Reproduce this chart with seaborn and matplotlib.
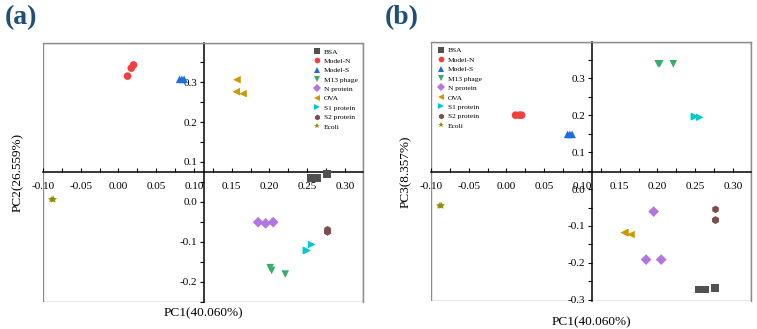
import matplotlib
matplotlib.use('Agg')
import matplotlib.pyplot as plt
import seaborn as sns
import pandas as pd
from matplotlib.patches import Rectangle
from matplotlib.ticker import MultipleLocator, FormatStrFormatter

# ---------------- data ----------------
samples = ['BSA', 'Model-N', 'Model-S', 'M13 phage', 'N protein',
           'OVA', 'S1 protein', 'S2 protein', 'Ecoli']
colors = ['#515151', '#F14040', '#1A6FDF', '#37AD6B', '#B177DE',
          '#CC9900', '#00CBCC', '#7D4E4E', '#8E8E00']
marker_list = ['s', 'o', '^', 'v', 'D', '<', '>', 'h', '*']

point_sample = (['BSA'] * 3 + ['Model-N'] * 3 + ['Model-S'] * 3 + ['M13 phage'] * 3 +
                ['N protein'] * 3 + ['OVA'] * 3 + ['S1 protein'] * 3 +
                ['S2 protein'] * 3 + ['Ecoli'] * 3)
pc1 = [0.255, 0.263, 0.276,
       0.012, 0.017, 0.020,
       0.081, 0.084, 0.087,
       0.201, 0.203, 0.221,
       0.185, 0.195, 0.205,
       0.157, 0.156, 0.165,
       0.249, 0.250, 0.256,
       0.277, 0.277, 0.277,
       -0.089, -0.086, -0.087]
pc2 = [0.059, 0.059, 0.069,
       0.315, 0.335, 0.343,
       0.307, 0.307, 0.307,
       -0.165, -0.172, -0.181,
       -0.051, -0.054, -0.051,
       0.306, 0.276, 0.271,
       -0.122, -0.122, -0.107,
       -0.070, -0.075, -0.075,
       0.006, 0.006, 0.006]
pc3 = [-0.272, -0.272, -0.268,
       0.200, 0.200, 0.200,
       0.148, 0.148, 0.148,
       0.339, 0.339, 0.339,
       -0.191, -0.061, -0.191,
       -0.118, -0.118, -0.123,
       0.196, 0.196, 0.194,
       -0.055, -0.084, -0.084,
       -0.045, -0.045, -0.045]

panel_letters = ['(a)', '(b)']
y_labels = ['PC2(26.559%)', 'PC3(8.357%)']
x_label = 'PC1(40.060%)'

df = pd.DataFrame({'sample': point_sample, 'PC1': pc1, 'PC2': pc2, 'PC3': pc3})
palette = dict(zip(samples, colors))
markers = dict(zip(samples, marker_list))

plt.rcParams['font.family'] = ['Liberation Serif', 'DejaVu Serif']

fig = plt.figure(figsize=(7.57, 3.29), dpi=100)
W, H = 757, 329

def axes_px(l, t, r, b):
    return fig.add_axes([l / W, 1 - b / H, (r - l) / W, (b - t) / H])

ax_a = axes_px(43, 43, 363, 302)
ax_b = axes_px(431, 42, 751, 301)

configs = [
    (ax_a, 'PC2', (-0.251, 0.398), 0.075, 'upper right', y_labels[0], panel_letters[0], 5, 313),
    (ax_b, 'PC3', (-0.303, 0.398), 0.046, 'upper left', y_labels[1], panel_letters[1], 385, 322),
]

for ax, ycol, ylim, ycross, legloc, ylab, letter, letter_x, xlab_y in configs:
    sns.scatterplot(data=df, x='PC1', y=ycol, hue='sample', style='sample',
                    hue_order=samples, style_order=samples,
                    palette=palette, markers=markers, s=30, linewidth=0,
                    ax=ax, zorder=3, clip_on=False)
    ax.set_xlim(-0.10, 0.324)
    ax.set_ylim(*ylim)
    ax.set_xlabel('')
    ax.set_ylabel('')

    # crossing axes
    ax.spines['left'].set_position(('data', 0.1135))
    ax.spines['bottom'].set_position(('data', ycross))
    for s in ['left', 'bottom']:
        ax.spines[s].set_color('black')
        ax.spines[s].set_linewidth(1.1)
    for s in ['top', 'right']:
        ax.spines[s].set_color('#8c8c8c')
        ax.spines[s].set_linewidth(1.0)
    ax.add_patch(Rectangle((0, 0), 1, 1, transform=ax.transAxes, fill=False,
                           edgecolor='#8c8c8c', linewidth=1.0, zorder=1))

    ax.xaxis.set_major_locator(MultipleLocator(0.05))
    ax.xaxis.set_minor_locator(MultipleLocator(0.025))
    ax.yaxis.set_major_locator(MultipleLocator(0.1))
    ax.yaxis.set_minor_locator(MultipleLocator(0.05))
    ax.xaxis.set_major_formatter(FormatStrFormatter('%.2f'))
    ax.yaxis.set_major_formatter(FormatStrFormatter('%.1f'))
    ax.tick_params(axis='x', which='both', direction='in', length=3, width=0.8,
                   labelsize=8, pad=7)
    ax.tick_params(axis='y', which='both', direction='out', length=3, width=0.8,
                   labelsize=8, pad=2)
    ax.tick_params(top=False, right=False)

    ax.legend(loc=legloc, frameon=False, fontsize=5.4, markerscale=0.75,
              labelspacing=0.42, handletextpad=0.3, borderaxespad=0.3,
              handlelength=1.2)

    ax.text(-0.077, 0.5, ylab, transform=ax.transAxes, rotation=90,
            ha='center', va='center', fontsize=9.5)
    fig.text((ax.get_position().x0 + ax.get_position().x1) / 2, 1 - xlab_y / H, x_label,
             ha='center', va='center', fontsize=9.5)
    fig.text(letter_x / W, 1 - 5 / H, letter, ha='left', va='top',
             fontsize=20, fontweight='bold', color='#1F4E79')

fig.savefig('out.png', dpi=100)
